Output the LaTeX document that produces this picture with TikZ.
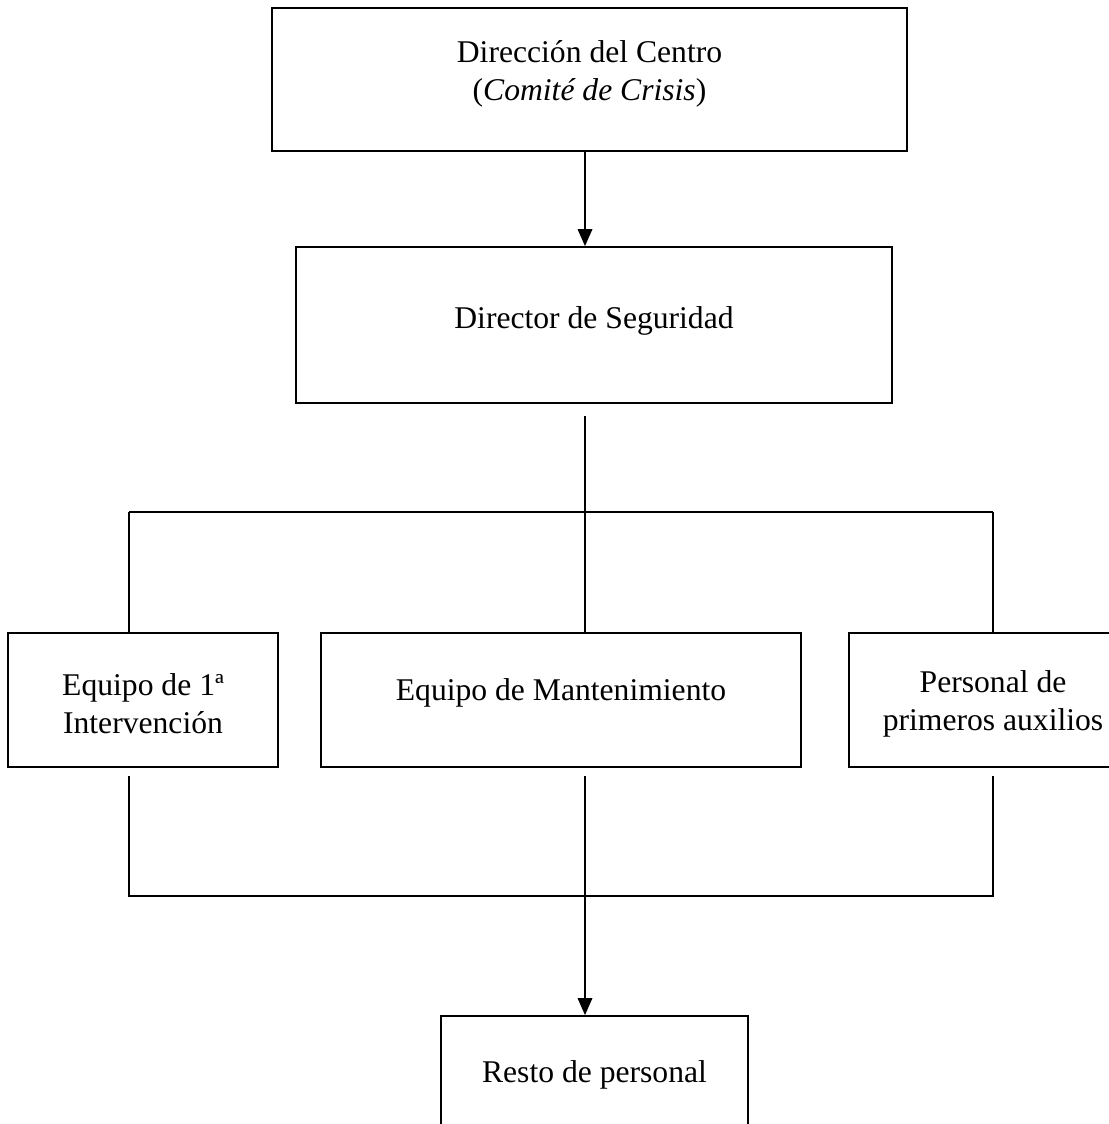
\documentclass[tikz,border=0pt]{standalone}
\usepackage{fontspec}
\setmainfont{Liberation Serif}
\usetikzlibrary{arrows.meta, calc}

\begin{document}
\begin{tikzpicture}[x=0.02cm, y=-0.02cm, line width=1pt,
  box/.style={draw, rectangle, inner sep=0pt, align=center,
    font=\fontsize{18}{21.5}\selectfont},
  link/.style={-{Triangle[width=0.29cm, length=0.34cm]}}]
  \useasboundingbox (0,0) rectangle (1108,1124);

  \node[box, minimum width=635*0.02cm, minimum height=143*0.02cm] (centro) at (589.5,79.5)
    {Dirección del Centro\\(\textit{Comité de Crisis})\\[-11pt]};
  \node[box, minimum width=596*0.02cm, minimum height=156*0.02cm,
    text height=0.5cm, text depth=0.36cm] (director) at (594,325)
    {Director de Seguridad};
  \node[box, minimum width=270*0.02cm, minimum height=134*0.02cm] (primera) at (143,700)
    {\rule{0pt}{17pt}Equipo de 1ª\\Intervención};
  \node[box, minimum width=480*0.02cm, minimum height=134*0.02cm,
    text height=0.42cm, text depth=0.42cm] (mant) at (561,700)
    {Equipo de Mantenimiento};
  \node[box, minimum width=288*0.02cm, minimum height=134*0.02cm] (aux) at (993,700)
    {\rule{0pt}{17pt}Personal de\\primeros auxilios};
  \node[box, minimum width=307*0.02cm, minimum height=116*0.02cm,
    text height=0.6cm, text depth=0.28cm] (resto) at (594.5,1074)
    {Resto de personal};

  \coordinate (dirOut) at (585,416);
  \coordinate (upL) at (129,512);
  \coordinate (upM) at (585,512);
  \coordinate (upR) at (993,512);
  \coordinate (outL) at (129,776);
  \coordinate (outM) at (585,776);
  \coordinate (outR) at (993,776);
  \coordinate (loL) at (129,896);
  \coordinate (loR) at (993,896);

  % top level
  \draw[link] (centro.south -| dirOut) -- (director.north -| dirOut);
  \draw (dirOut) -- (upM);
  \draw (upL) -- (upR);
  \draw (upL) -- (upL |- primera.north);
  \draw (upM) -- (upM |- mant.north);
  \draw (upR) -- (upR |- aux.north);

  % bottom level
  \draw (outL) -- (loL) -- (loR) -- (outR);
  \draw[link] (outM) -- (outM |- resto.north);
\end{tikzpicture}
\end{document}
